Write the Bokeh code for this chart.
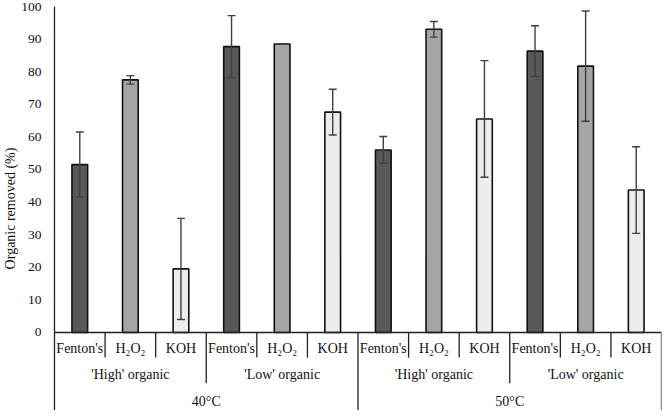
from bokeh.plotting import figure
from bokeh.models import (ColumnDataSource, FactorRange, Range1d, FixedTicker, Span,
                          Whisker, TeeHead)
from bokeh.core.properties import value
from bokeh.embed import file_html
from bokeh.resources import INLINE

# ---- data ----
temps = ["40°C", "50°C"]
organics = ["'High' organic", "'Low' organic"]
reagents = ["Fenton's", "H₂O₂", "KOH"]
removed = [51.5, 77.5, 19.5, 87.7, 88.5, 67.6, 56.0, 93.0, 65.5, 86.3, 81.7, 43.7]
error = [10.0, 1.3, 15.5, 9.5, 0.1, 7.0, 4.1, 2.4, 17.9, 7.8, 16.9, 13.3]
reagent_colors = ["#595959", "#a5a5a5", "#ececec"]
y_ticks = list(range(0, 101, 10))

FONT = "Liberation Serif"

factors = [(t, o, r) for t in temps for o in organics for r in reagents]
colors = [reagent_colors[reagents.index(f[2])] for f in factors]

src = ColumnDataSource(dict(
    x=factors, top=removed, color=colors,
    upper=[v + e for v, e in zip(removed, error)],
    lower=[v - e for v, e in zip(removed, error)],
))

y_bottom = -23.93
p = figure(width=663, height=410, output_backend="svg", toolbar_location=None,
           x_range=FactorRange(*factors, factor_padding=0, subgroup_padding=0,
                               group_padding=0, range_padding=0),
           y_range=Range1d(y_bottom, 100),
           min_border_left=44, min_border_right=2, min_border_top=6, min_border_bottom=0)
p.xaxis.visible = False
p.xgrid.visible = False
p.ygrid.visible = False
p.outline_line_color = None

yax = p.yaxis[0]
yax.ticker = FixedTicker(ticks=y_ticks)
yax.major_tick_line_color = None
yax.minor_tick_line_color = None
yax.axis_line_color = "#222222"
yax.axis_line_width = 1.3
yax.major_label_standoff = 7
yax.major_label_text_font = FONT
yax.major_label_text_font_size = "13.5px"
yax.major_label_text_color = "#111111"
yax.axis_label = "Organic removed (%)"
yax.axis_label_text_font = FONT
yax.axis_label_text_font_size = "14px"
yax.axis_label_text_font_style = "normal"
yax.axis_label_text_color = "#111111"
yax.axis_label_standoff = 0

# bars
p.vbar(x="x", top="top", width=0.31, source=src, fill_color="color",
       line_color="#111111", line_width=1.6)

# error bars
wh = Whisker(base="x", upper="upper", lower="lower", source=src, level="overlay",
             line_color="#404040", line_width=1.4,
             upper_head=TeeHead(size=8, line_color="#404040", line_width=1.4),
             lower_head=TeeHead(size=8, line_color="#404040", line_width=1.4))
p.add_layout(wh)

# x axis line at 0
p.add_layout(Span(location=0, dimension="width", line_color="#222222", line_width=1.3))

# category separators
tier1_y, tier2_y = -7.7, -15.6
sx, sy1 = [], []
for f in factors:
    if f[2] != reagents[0]:
        sx.append((*f, -0.5)); sy1.append(tier1_y)
    elif f[1] != organics[0]:
        sx.append((*f, -0.5)); sy1.append(tier2_y)
    elif f[0] != temps[0]:
        sx.append((*f, -0.5)); sy1.append(y_bottom)
sx.append((*factors[-1], 0.5)); sy1.append(y_bottom)
p.segment(x0=sx, x1=sx, y0=[0] * len(sx), y1=sy1, line_color="#222222", line_width=1.3)

# labels
p.text(x=factors, y=[-4.9] * len(factors), text=[f[2] for f in factors],
       text_font=value(FONT), text_font_size="14px", text_align="center",
       text_baseline="middle", text_color="#111111")
sub = [(t, o) for t in temps for o in organics]
p.text(x=sub, y=[-12.9] * len(sub), text=[s[1] for s in sub],
       text_font=value(FONT), text_font_size="14px", text_align="center",
       text_baseline="middle", text_color="#111111")
p.text(x=temps, y=[-21.2] * len(temps), text=temps,
       text_font=value(FONT), text_font_size="14px", text_align="center",
       text_baseline="middle", text_color="#111111")

open("out.html", "w").write(file_html(p, INLINE))
